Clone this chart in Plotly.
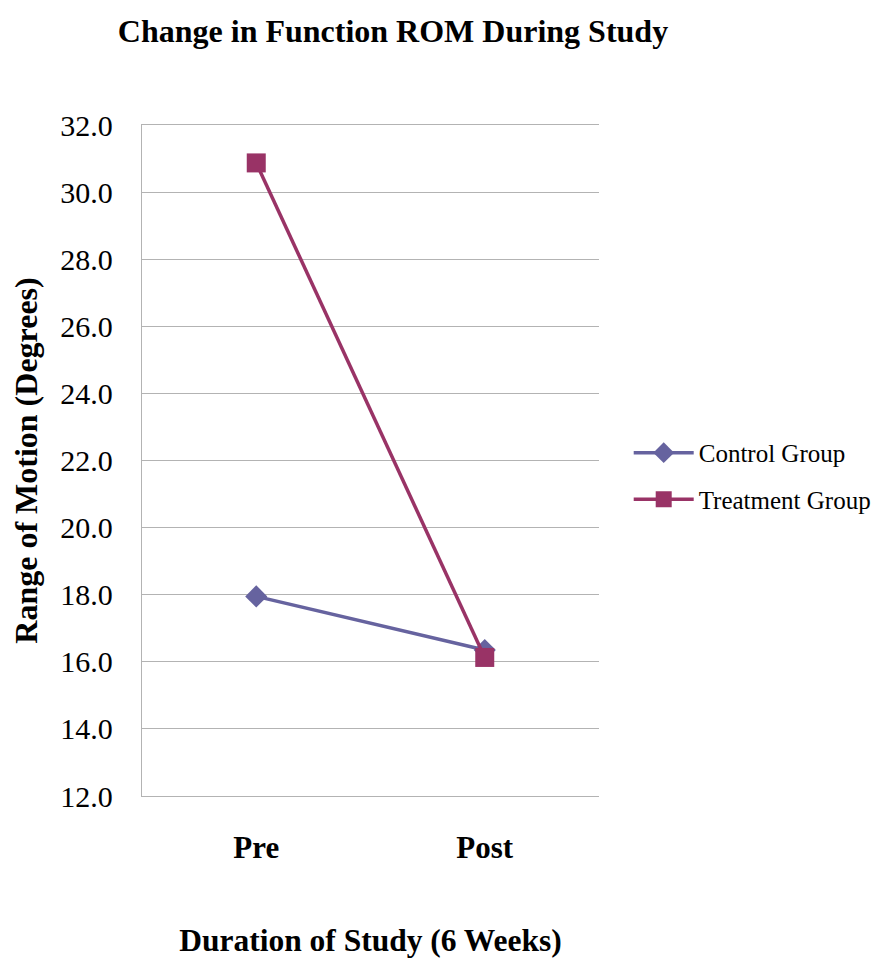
import plotly.graph_objects as go

categories = ["Pre", "Post"]
control_values = [17.95, 16.35]
treatment_values = [30.87, 16.13]
y_ticks = [12.0, 14.0, 16.0, 18.0, 20.0, 22.0, 24.0, 26.0, 28.0, 30.0, 32.0]

SERIF = "Liberation Serif, Times New Roman, serif"

fig = go.Figure()
fig.add_trace(go.Scatter(
    x=categories, y=control_values, name="Control Group",
    mode="lines+markers", legendgroup="c",
    line=dict(color="#66639F", width=3.5),
    marker=dict(symbol="diamond", size=17, color="#66639F"),
))
fig.add_trace(go.Scatter(
    x=categories, y=treatment_values, name="Treatment Group",
    mode="lines+markers", legendgroup="t",
    line=dict(color="#993366", width=3.5),
    marker=dict(symbol="square", size=19, color="#993366"),
))

fig.update_layout(
    width=881, height=960,
    paper_bgcolor="white", plot_bgcolor="white",
    margin=dict(l=134, r=290, t=117, b=172, autoexpand=False),
    title=dict(text="<b>Change in Function ROM During Study</b>",
               x=0.437, xanchor="center", y=0.976, yanchor="middle",
               font=dict(family=SERIF, size=32, color="black")),
    legend=dict(x=1.065, y=0.477, xanchor="left", yanchor="middle",
                font=dict(family=SERIF, size=25, color="black"),
                tracegroupgap=11, itemwidth=60),
    showlegend=True,
)
fig.update_xaxes(
    type="category", range=[-0.5, 1.5], automargin=False,
    showgrid=False, zeroline=False,
    showline=True, mirror=True, linecolor="#B3B3B3", linewidth=1.3,
    tickfont=dict(family=SERIF, size=31, color="black"),
    tickprefix="<b>", ticksuffix="</b>",
    ticks="", ticklen=0, ticklabelstandoff=24,
    title=dict(text="<b>Duration of Study (6 Weeks)</b>",
               font=dict(family=SERIF, size=31.5, color="black"), standoff=64),
)
fig.update_yaxes(
    range=[12, 32], tickvals=y_ticks, automargin=False,
    ticktext=[f"{v:.1f}" for v in y_ticks],
    showgrid=True, gridcolor="#B3B3B3", gridwidth=1.3,
    showline=True, linecolor="#B3B3B3", linewidth=1.3,
    zeroline=False, ticks="", ticklabelstandoff=22,
    tickfont=dict(family=SERIF, size=30, color="black"),
    title=dict(text="<b>Range of Motion (Degrees)</b>",
               font=dict(family=SERIF, size=32, color="black"), standoff=15),
)
fig.write_html("out.html")
